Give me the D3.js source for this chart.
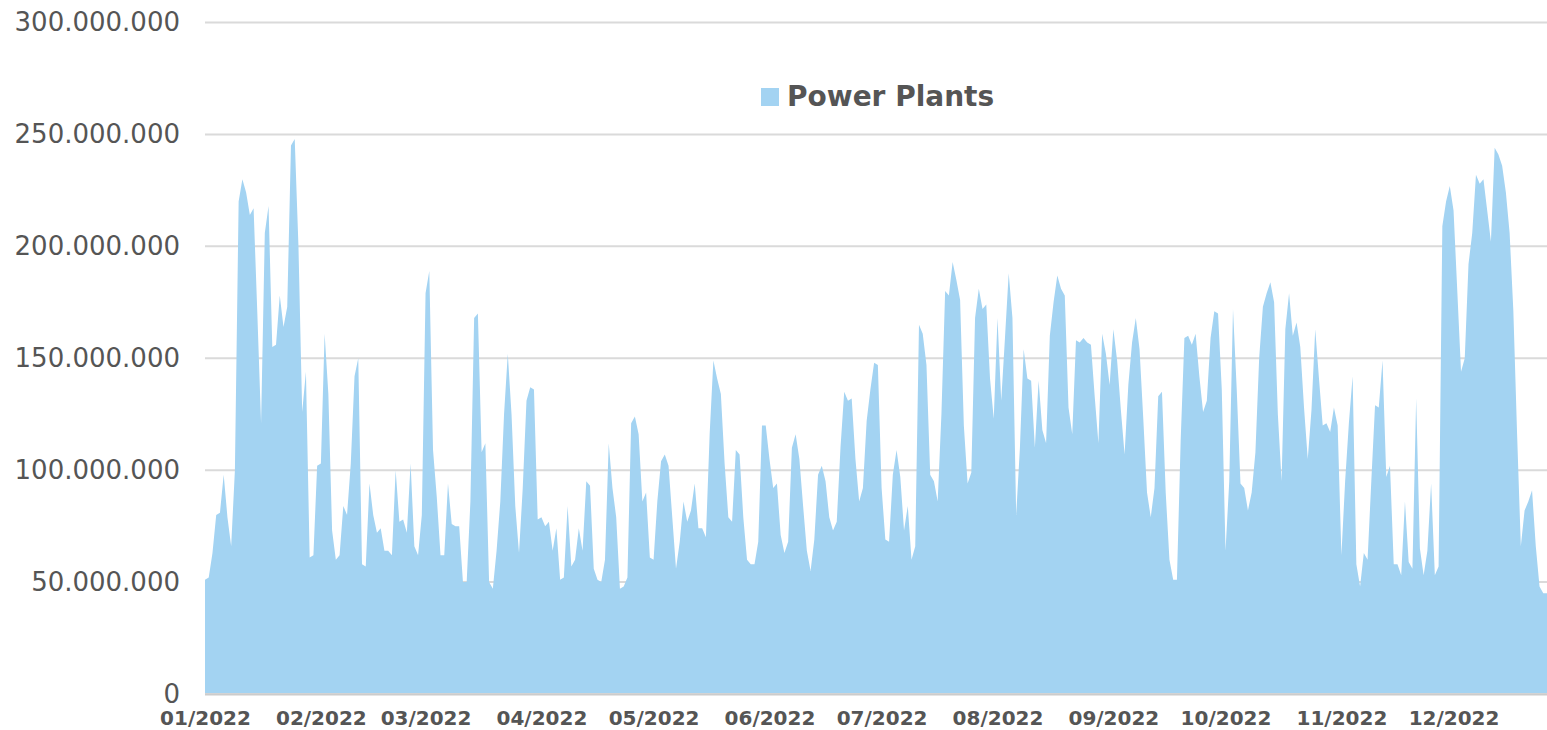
<!DOCTYPE html>
<html>
<head>
<meta charset="utf-8">
<script src="https://cdnjs.cloudflare.com/ajax/libs/d3/7.8.5/d3.min.js"></script>
<style>
  html, body { margin: 0; padding: 0; background: #fff; }
  svg { display: block; }
</style>
</head>
<body>
<div class="mainDiv"></div>
<script>
// daily values in millions, starting 01/01/2022
const seriesName = "Power Plants";
const startDate = new Date(2022, 0, 1);
const values = [
  51, 52, 63, 80, 81, 98, 79, 66, 100, 220,
  230, 224, 214, 217, 170, 121, 206, 218, 155, 156,
  178, 164, 173, 245, 248, 200, 126, 144, 61, 62,
  102, 103, 161, 134, 73, 60, 62, 84, 80, 103,
  142, 150, 58, 57, 94, 80, 72, 74, 64, 64,
  62, 100, 77, 78, 72, 103, 66, 62, 80, 179,
  189, 109, 88, 62, 62, 94, 76, 75, 75, 50,
  50, 86, 168, 170, 108, 112, 50, 47, 64, 86,
  125, 152, 125, 84, 63, 92, 131, 137, 136, 78,
  79, 75, 77, 64, 74, 51, 52, 84, 57, 60,
  74, 64, 95, 93, 56, 51, 50, 60, 112, 92,
  79, 47, 48, 52, 121, 124, 116, 86, 90, 61,
  60, 86, 104, 107, 102, 79, 56, 68, 86, 77,
  82, 94, 74, 74, 70, 116, 149, 141, 134, 103,
  79, 77, 109, 107, 79, 60, 58, 58, 68, 120,
  120, 105, 92, 94, 71, 63, 68, 110, 116, 105,
  84, 64, 55, 69, 98, 102, 95, 79, 73, 77,
  110, 135, 131, 132, 105, 86, 92, 122, 136, 148,
  147, 92, 69, 68, 98, 109, 97, 73, 84, 60,
  66, 165, 161, 147, 98, 95, 86, 125, 180, 178,
  193, 185, 176, 120, 94, 99, 168, 181, 172, 174,
  141, 123, 168, 131, 159, 188, 168, 80, 110, 154,
  141, 140, 110, 140, 118, 112, 160, 175, 187, 181,
  178, 128, 116, 158, 157, 159, 157, 156, 133, 112,
  161, 152, 138, 163, 149, 127, 107, 138, 157, 168,
  154, 123, 90, 79, 92, 133, 135, 90, 60, 51,
  51, 113, 159, 160, 156, 161, 142, 126, 131, 159,
  171, 170, 136, 64, 95, 172, 136, 94, 92, 82,
  90, 108, 150, 173, 179, 184, 175, 125, 95, 163,
  179, 160, 166, 155, 128, 105, 127, 163, 141, 120,
  121, 117, 128, 120, 62, 95, 121, 142, 58, 48,
  63, 60, 95, 129, 128, 149, 97, 102, 58, 58,
  53, 86, 59, 56, 132, 65, 53, 64, 94, 53,
  57, 209, 220, 227, 216, 180, 144, 150, 192, 206,
  232, 228, 230, 216, 202, 244, 241, 236, 224, 206,
  171, 116, 66, 82, 86, 91, 66, 48, 45, 45
];
const yTicks = [0, 50e6, 100e6, 150e6, 200e6, 250e6, 300e6];

const width = 1547, height = 730;
const margin = { top: 22.5, right: 0, bottom: 36, left: 205 };
const areaColor = "#a3d3f2";
const textColor = "#555555";
const gridColor = "#dadada";

const data = values.map((v, i) => ({ date: d3.timeDay.offset(startDate, i), value: v * 1e6 }));

const svg = d3.select(".mainDiv").append("svg")
  .attr("width", width)
  .attr("height", height)
  .style("font-family", "'DejaVu Sans', Verdana, sans-serif");

const x = d3.scaleTime()
  .domain(d3.extent(data, d => d.date))
  .range([margin.left, width - margin.right]);

const y = d3.scaleLinear()
  .domain([0, 300e6])
  .range([height - margin.bottom, margin.top]);

const locale = d3.formatLocale({ decimal: ",", thousands: ".", grouping: [3], currency: ["", ""] });
const fmt = locale.format(",");

// grid lines
svg.append("g")
  .selectAll("line")
  .data(yTicks)
  .join("line")
  .attr("x1", margin.left)
  .attr("x2", width)
  .attr("y1", d => y(d))
  .attr("y2", d => y(d))
  .attr("stroke", gridColor)
  .attr("stroke-width", 2);

// area
const area = d3.area()
  .x(d => x(d.date))
  .y0(y(0) - 1)
  .y1(d => y(d.value));

svg.append("path")
  .datum(data)
  .attr("fill", areaColor)
  .attr("d", area);

// baseline
svg.append("line")
  .attr("x1", margin.left)
  .attr("x2", width)
  .attr("y1", y(0) + 0.5)
  .attr("y2", y(0) + 0.5)
  .attr("stroke", "#cccccc")
  .attr("stroke-width", 2);

// y axis labels
const yAxis = d3.axisLeft(y)
  .tickValues(yTicks)
  .tickFormat(fmt)
  .tickSize(0)
  .tickPadding(0);

svg.append("g")
  .attr("transform", `translate(180,0)`)
  .call(yAxis)
  .call(g => g.select(".domain").remove())
  .selectAll("text")
  .attr("fill", textColor)
  .attr("font-size", 26)
  .attr("font-family", "'DejaVu Sans', Verdana, sans-serif");

// x axis labels
const xAxis = d3.axisBottom(x)
  .tickValues(d3.timeMonth.range(startDate, new Date(2022, 11, 2)))
  .tickFormat(d3.timeFormat("%m/%Y"))
  .tickSize(0)
  .tickPadding(0);

svg.append("g")
  .attr("transform", `translate(0,${y(0)})`)
  .call(xAxis)
  .call(g => g.select(".domain").remove())
  .selectAll("text")
  .attr("dy", null)
  .attr("y", 31)
  .attr("fill", textColor)
  .attr("font-size", 20)
  .attr("font-weight", "bold")
  .attr("font-family", "'DejaVu Sans', Verdana, sans-serif");

// legend
const legend = svg.append("g").attr("transform", "translate(761,88)");
legend.append("rect")
  .attr("width", 18)
  .attr("height", 18)
  .attr("fill", areaColor);
legend.append("text")
  .attr("x", 26)
  .attr("y", 18)
  .attr("font-size", 28)
  .attr("font-weight", "bold")
  .attr("fill", textColor)
  .text(seriesName);
</script>
</body>
</html>
